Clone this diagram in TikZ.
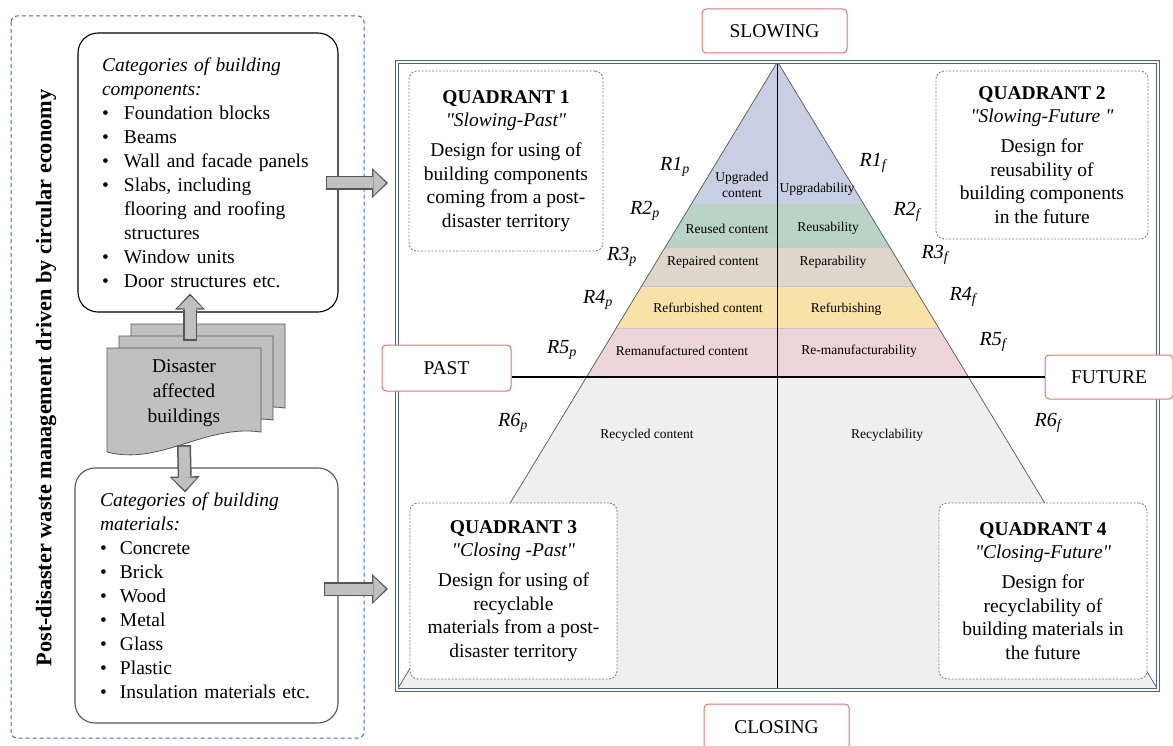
\documentclass[tikz,border=0pt]{standalone}
\usepackage{fontspec}
\setmainfont{Liberation Serif}[Ligatures=TeXOff]
\usetikzlibrary{arrows.meta}
\usetikzlibrary{positioning}

\definecolor{frameblue}{HTML}{4A6396}
\definecolor{dashblue}{HTML}{3A6BC9}
\definecolor{tagred}{HTML}{E57373}
\definecolor{bandA}{HTML}{C9CFE2}
\definecolor{bandB}{HTML}{B9D3C9}
\definecolor{bandC}{HTML}{DFD5CA}
\definecolor{bandD}{HTML}{F8E2A8}
\definecolor{bandE}{HTML}{ECD4D9}
\definecolor{bandF}{HTML}{EFEFEF}
\definecolor{docgray}{HTML}{C0C0C0}
\definecolor{edgegray}{HTML}{555555}

\newcommand{\bul}{\makebox[22pt][l]{\textbullet}}
\newcommand{\bulm}{\makebox[20pt][l]{\textbullet}}

\tikzset{
  catbox/.style = {draw, rounded corners=20pt, line width=1.1pt, align=left, inner sep=0pt},
  quadbox/.style = {draw=gray, dash pattern=on 2pt off 1.5pt, rounded corners=8pt, fill=white, align=center,
                    line width=0.9pt, font=\fontsize{19.5}{23.5}\selectfont},
  tagbox/.style = {draw=tagred, rounded corners=4pt, fill=white, line width=1pt},
  bandtext/.style = {font=\fontsize{13.5}{16}\selectfont, align=center, inner sep=0pt},
  rlabel/.style = {font=\fontsize{20}{24}\selectfont\itshape, inner sep=0pt},
  arrowout/.style = {draw=edgegray, line width=14pt,
                     -{Triangle[length=16pt,width=30pt,line width=0pt]}},
  arrowin/.style = {draw=docgray, line width=11pt, shorten >=2.2pt, shorten <=1.5pt,
                    -{Triangle[length=12.5pt,width=25pt,line width=0pt]}},
  docpage/.style = {draw=edgegray, fill=docgray, line width=0.8pt},
  bandline/.style = {draw=gray!45, line width=0.8pt},
  edge/.style = {draw=edgegray, line width=0.7pt},
  axisline/.style = {draw=black, line width=1.4pt},
  frameline/.style = {draw=frameblue, double=white, double distance=1.6pt, line width=1.3pt},
  groupline/.style = {draw=dashblue, dash pattern=on 4pt off 3pt, line width=1pt, rounded corners=6pt}
}

\begin{document}
\begin{tikzpicture}[x=1pt,y=-1pt,font=\fontsize{19.5}{24}\selectfont]

        % \draw [help lines] (0,0) grid (1173,746);
        \useasboundingbox (0,0) rectangle (1173,746);

        \draw[groupline] (11,16) rectangle (364,738);

        \path   (46,378) node (title) [rotate=90, font=\bfseries\fontsize{22.3}{26}\selectfont]
                {Post-disaster waste management driven by circular economy}
                (208,172.5) node (comp) [catbox, minimum width=260, minimum height=279, text width=212]
                {\textit{Categories of building}\\
                 \textit{components:}\\
                 \bul Foundation blocks\\
                 \bul Beams\\
                 \bul Wall and facade panels\\
                 \bul Slabs, including\\
                 \hspace*{22pt}flooring and roofing\\
                 \hspace*{22pt}structures\\
                 \bul Window units\\
                 \bul Door structures etc.\\[4pt]}
                (206.5,595.5) node (mat) [catbox, draw=edgegray, minimum width=263, minimum height=255, text width=213]
                {\textit{Categories of building}\\
                 \textit{materials:}\\
                 \bulm Concrete\\
                 \bulm Brick\\
                 \bulm Wood\\
                 \bulm Metal\\
                 \bulm Glass\\
                 \bulm Plastic\\
                 \bulm Insulation materials etc.};

        \draw[docpage, shift={(24,-24)}] (107,348) -- (261,348) -- (261,432) .. controls (205,424) and (160,466) .. (107,452) -- cycle;
        \draw[docpage, shift={(12,-12)}] (107,348) -- (261,348) -- (261,432) .. controls (205,424) and (160,466) .. (107,452) -- cycle;
        \draw[docpage] (107,348) -- (261,348) -- (261,432) .. controls (205,424) and (160,466) .. (107,452) -- cycle;
        \path   (184,393) node (docs) [minimum width=154, minimum height=104, align=center,
                                       font=\fontsize{19.5}{25}\selectfont] {Disaster\\affected\\buildings};

        \coordinate (in1) at (388,183);
        \coordinate (in2) at (388,589);

        \draw[arrowout] ([xshift=6pt]docs.north) -- ([xshift=-18pt,yshift=19pt]comp.south);
        \draw[arrowin]  ([xshift=6pt]docs.north) -- ([xshift=-18pt,yshift=19pt]comp.south);
        \draw[arrowout] (docs.south) -- ([xshift=-21.5pt,yshift=-25pt]mat.north);
        \draw[arrowin]  (docs.south) -- ([xshift=-21.5pt,yshift=-25pt]mat.north);
        \draw[arrowout] ([xshift=-13pt,yshift=-10.5pt]comp.east) -- (in1);
        \draw[arrowin]  ([xshift=-13pt,yshift=-10.5pt]comp.east) -- (in1);
        \draw[arrowout] ([xshift=-15pt,yshift=6.5pt]mat.east) -- (in2);
        \draw[arrowin]  ([xshift=-15pt,yshift=6.5pt]mat.east) -- (in2);

        % the R-pyramid
        \path   (777.5,376) node (frame) [minimum width=761, minimum height=628, inner sep=0pt] {};

        \begin{scope}
          \clip (frame.north) -- (frame.south west) -- (frame.south east) -- cycle;
          \fill[bandA] (397,62) rectangle (1158,204);
          \fill[bandB] (397,204) rectangle (1158,247);
          \fill[bandC] (397,247) rectangle (1158,286);
          \fill[bandD] (397,286) rectangle (1158,328);
          \fill[bandE] (397,328) rectangle (1158,376);
          \fill[bandF] (397,376) rectangle (1158,690);
          \draw[bandline] (397,204) -- (1158,204);
          \draw[bandline] (397,247) -- (1158,247);
          \draw[bandline] (397,286) -- (1158,286);
          \draw[bandline] (397,328) -- (1158,328);
        \end{scope}

        \draw[edge] (frame.south west) -- (frame.north) -- (frame.south east);
        \draw[axisline] (frame.north) -- (frame.south);

        \path   (742,185) node (b1p) [bandtext] {Upgraded\\content}
                (817,189) node (b1f) [bandtext] {Upgradability}
                (727,229) node (b2p) [bandtext] {Reused content}
                (828,228) node (b2f) [bandtext] {Reusability}
                (713,262) node (b3p) [bandtext] {Repaired content}
                (833,262) node (b3f) [bandtext] {Reparability}
                (708,308) node (b4p) [bandtext] {Refurbished content}
                (846,309) node (b4f) [bandtext] {Refurbishing}
                (682,351) node (b5p) [bandtext] {Remanufactured content}
                (859,351) node (b5f) [bandtext] {Re-manufacturability}
                (647,435) node (b6p) [bandtext] {Recycled content}
                (887,435) node (b6f) [bandtext] {Recyclability};

        \path   (675,167) node (r1p) [rlabel] {R1\textsubscript{p}}
                (645,211) node (r2p) [rlabel] {R2\textsubscript{p}}
                (622,257) node (r3p) [rlabel] {R3\textsubscript{p}}
                (598,300) node (r4p) [rlabel] {R4\textsubscript{p}}
                (562,350) node (r5p) [rlabel] {R5\textsubscript{p}}
                (513,423) node (r6p) [rlabel] {R6\textsubscript{p}}
                (873,163) node (r1f) [rlabel] {R1\textsubscript{f}}
                (907,212) node (r2f) [rlabel] {R2\textsubscript{f}}
                (935,255) node (r3f) [rlabel] {R3\textsubscript{f}}
                (963,297) node (r4f) [rlabel] {R4\textsubscript{f}}
                (993,342) node (r5f) [rlabel] {R5\textsubscript{f}}
                (1048,423) node (r6f) [rlabel] {R6\textsubscript{f}};

        \path   (506,161) node (q1) [quadbox, minimum width=194, minimum height=180]
                {\textbf{QUADRANT 1}\\ \textit{"Slowing-Past"}\\[6.5pt]
                 Design for using of\\ building components\\ coming from a post-\\ disaster territory}
                (1042,155) node (q2) [quadbox, minimum width=212, minimum height=168]
                {\textbf{QUADRANT 2}\\ \textit{"Slowing-Future "}\\[6.5pt]
                 Design for\\ reusability of\\ building components\\ in the future}
                (513.5,591) node (q3) [quadbox, minimum width=207, minimum height=176]
                {\textbf{QUADRANT 3}\\ \textit{"Closing -Past"}\\[6.5pt]
                 Design for using of\\ recyclable\\ materials from a post-\\ disaster territory}
                (1043,591) node (q4) [quadbox, minimum width=208, minimum height=176]
                {\textbf{QUADRANT 4}\\ \textit{"Closing-Future"}\\[6.5pt]
                 Design for\\ recyclability of\\ building materials in\\ the future};

        \draw[frameline] (frame.south west) rectangle (frame.north east);

        \path   (774.5,31) node (slowing) [tagbox, minimum width=145, minimum height=44] {SLOWING}
                (446.5,368) node (past) [tagbox, minimum width=129, minimum height=46] {PAST}
                (1109,377) node (future) [tagbox, minimum width=128, minimum height=44] {FUTURE}
                (776.5,727) node (closing) [tagbox, minimum width=145, minimum height=46] {CLOSING};

        \draw[axisline] (past.east |- future.west) -- (future.west);

\end{tikzpicture}
\end{document}
